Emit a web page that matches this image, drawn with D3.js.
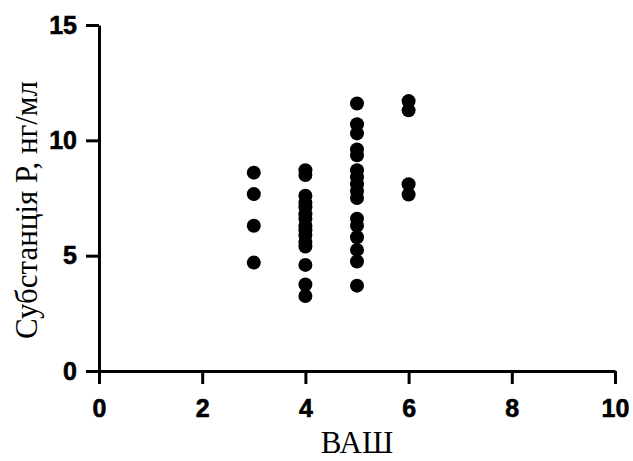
<!DOCTYPE html>
<html>
<head>
<meta charset="utf-8">
<script src="https://cdn.jsdelivr.net/npm/d3@7"></script>
<style>
  html, body { margin: 0; padding: 0; background: #fff; }
  svg { display: block; }
  .tick text { font-family: "Liberation Sans", Arial, sans-serif; font-weight: bold; font-size: 25px; fill: #000; stroke: #000; stroke-width: 0.6px; }
  .title { font-family: "Liberation Serif", "Times New Roman", serif; font-size: 31px; fill: #000; }
</style>
</head>
<body>
<svg id="chart" width="633" height="461"></svg>
<script>
// ВАШ score groups and the substance P readings (ng/ml) measured in each
const vasGroups = [3, 4, 5, 6];
const substanceP3 = [8.6, 7.67, 6.3, 4.7];
const substanceP4 = [8.7, 8.5, 7.6, 7.3, 7.1, 6.8, 6.6, 6.3, 6.1, 5.9, 5.6, 5.4, 4.6, 3.75, 3.25];
const substanceP5 = [11.6, 10.7, 10.3, 9.6, 9.35, 8.7, 8.4, 8.1, 7.8, 7.5, 6.6, 6.3, 5.8, 5.25, 4.75, 3.7];
const substanceP6 = [11.7, 11.3, 8.1, 7.65];
const xTicks = [0, 2, 4, 6, 8, 10];
const yTicks = [0, 5, 10, 15];

const seriesByGroup = [substanceP3, substanceP4, substanceP5, substanceP6];
const points = vasGroups.flatMap((g, i) => seriesByGroup[i].map(v => ({ x: g, y: v })));

const svg = d3.select("#chart");
const margin = { left: 99, right: 18, top: 25, bottom: 90 };
const W = 633, H = 461;

const x = d3.scaleLinear().domain([0, 10]).range([margin.left, W - margin.right]);
const y = d3.scaleLinear().domain([0, 15]).range([H - margin.bottom, margin.top]);

const xAxis = svg.append("g")
  .attr("transform", `translate(0,${y(0)})`)
  .call(d3.axisBottom(x).tickValues(xTicks).tickFormat(d3.format("d")).tickSize(13).tickSizeOuter(0).tickPadding(15));

const yAxis = svg.append("g")
  .attr("transform", `translate(${x(0)},0)`)
  .call(d3.axisLeft(y).tickValues(yTicks).tickFormat(d3.format("d")).tickSize(13).tickSizeOuter(0).tickPadding(9));

[xAxis, yAxis].forEach(a => {
  a.select(".domain").attr("stroke", "#000").attr("stroke-width", 3);
  a.selectAll(".tick line").attr("stroke", "#000").attr("stroke-width", 3);
});

svg.append("g")
  .selectAll("circle")
  .data(points)
  .join("circle")
  .attr("cx", d => x(d.x))
  .attr("cy", d => y(d.y))
  .attr("r", 7)
  .attr("fill", "#000");

svg.append("text")
  .attr("class", "title")
  .attr("x", (x(0) + x(10)) / 2)
  .attr("y", 453)
  .attr("text-anchor", "middle")
  .text("ВАШ");

svg.append("text")
  .attr("class", "title")
  .attr("transform", `translate(37,${(y(0) + y(15)) / 2 + 12}) rotate(-90)`)
  .attr("text-anchor", "middle")
  .text("Субстанція Р, нг/мл");
</script>
</body>
</html>
